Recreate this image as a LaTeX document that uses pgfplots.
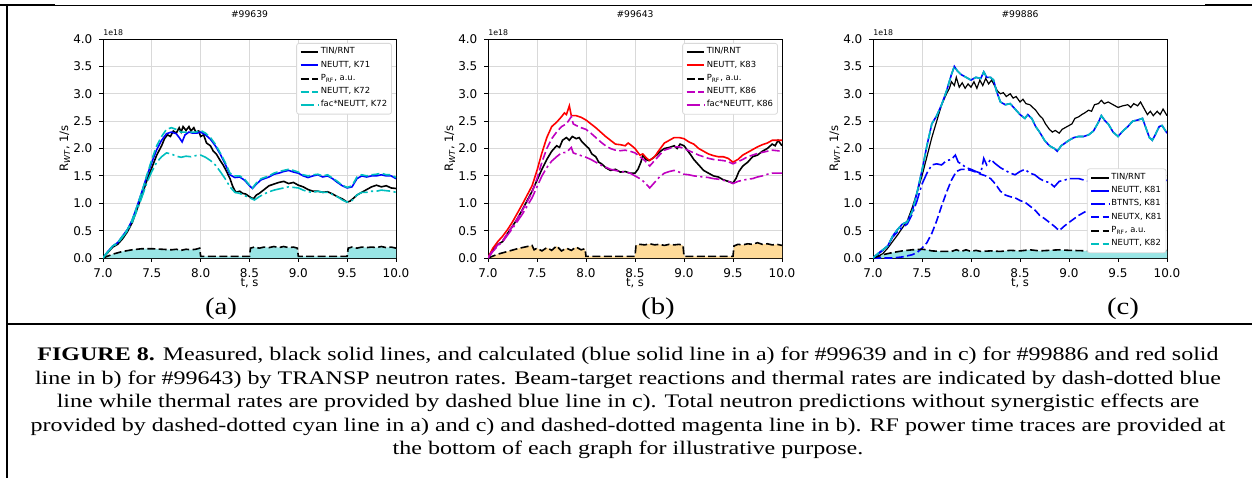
\documentclass[border=0pt]{standalone}
\usepackage{fontspec}
\setmainfont{Liberation Serif}
\newfontfamily\mpl{DejaVu Sans}
\usepackage{graphicx}
\usepackage{pgfplots}
\pgfplotsset{compat=1.18}
\usepackage{pgfplotstable}

\definecolor{mc}{HTML}{00BFBF}
\definecolor{mm}{HTML}{BF00BF}
\definecolor{cfill}{HTML}{99E5E5}
\definecolor{ofill}{HTML}{FFDB99}
\definecolor{lgframe}{HTML}{D9D9D9}

\tikzset{
  dsh/.style={dash pattern=on 4pt off 1.7pt},
  dshdot/.style={dash pattern=on 6.9pt off 1.7pt on 1.1pt off 1.7pt},
}

\pgfplotsset{
  panel/.style={
    scale only axis, width=147pt, height=109.5pt,
    clip mode=individual,
    xmin=7, xmax=10, ymin=0, ymax=4,
    xtick={7,7.5,8,8.5,9,9.5,10},
    ytick={0,0.5,1,1.5,2,2.5,3,3.5,4},
    xticklabel style={/pgf/number format/.cd, fixed, fixed zerofill, precision=1, assume math mode=true},
    yticklabel style={/pgf/number format/.cd, fixed, fixed zerofill, precision=1, assume math mode=true},
    tick label style={font=\mpl\fontsize{6}{7}\selectfont},
    grid=major, major grid style={black!15, line width=0.45pt},
    tick align=outside, tick pos=left, major tick length=1.8pt,
    every tick/.style={black, line width=0.4pt},
    axis line style={line width=0.45pt},
    xlabel={t, s},
    ylabel={R\textsubscript{\itshape WT}, 1/s},
    xlabel style={at={(axis description cs:0.5,-0.114)}, anchor=center, font=\mpl\fontsize{5.8}{6.5}\selectfont},
    ylabel style={at={(axis description cs:-0.13,0.5)}, anchor=center, font=\mpl\fontsize{5.8}{6.5}\selectfont},
    every axis title/.style={at={(axis description cs:0.5,1.114)}, anchor=center, font=\mpl\fontsize{4.6}{5}\selectfont},
    legend cell align=left,
    legend style={font=\mpl\fontsize{4.2}{5}\selectfont, draw=lgframe, rounded corners=1.2pt,
      fill=white, inner sep=1.5pt, row sep=0.6pt, nodes={inner sep=0.7pt},
      at={(0.986,0.982)}, anchor=north east},
    legend image post style={xscale=0.52, line width=1pt},
    every axis plot/.append style={line width=0.8pt},
  },
}

% panel (a) #99639
\pgfplotstableread{
t y
7.00 0.00
7.05 0.10
7.10 0.20
7.15 0.25
7.20 0.35
7.25 0.48
7.30 0.65
7.35 0.90
7.40 1.15
7.45 1.42
7.50 1.65
7.55 1.88
7.60 2.05
7.63 2.18
7.66 2.25
7.69 2.22
7.72 2.32
7.75 2.28
7.78 2.38
7.80 2.30
7.82 2.40
7.85 2.33
7.88 2.40
7.90 2.32
7.93 2.38
7.95 2.30
7.98 2.32
8.00 2.22
8.03 2.25
8.06 2.10
8.10 2.05
8.13 1.95
8.16 1.90
8.20 1.78
8.23 1.70
8.26 1.60
8.30 1.45
8.33 1.30
8.36 1.20
8.40 1.22
8.43 1.18
8.46 1.17
8.50 1.12
8.54 1.08
8.57 1.15
8.60 1.18
8.65 1.25
8.70 1.32
8.75 1.35
8.80 1.38
8.85 1.40
8.90 1.36
8.95 1.38
9.00 1.33
9.05 1.30
9.10 1.25
9.15 1.22
9.20 1.22
9.25 1.20
9.30 1.21
9.35 1.17
9.40 1.12
9.45 1.08
9.50 1.02
9.53 1.04
9.57 1.10
9.60 1.15
9.65 1.20
9.70 1.25
9.75 1.30
9.80 1.33
9.85 1.30
9.90 1.32
9.95 1.28
10.00 1.27
}\rnta

\pgfplotstableread{
t y
7.00 0.00
7.05 0.12
7.10 0.22
7.15 0.28
7.20 0.40
7.25 0.52
7.30 0.70
7.35 0.95
7.40 1.22
7.45 1.50
7.50 1.75
7.55 1.98
7.60 2.15
7.65 2.27
7.70 2.30
7.75 2.27
7.78 2.20
7.81 2.12
7.84 2.25
7.88 2.30
7.92 2.28
7.96 2.28
8.00 2.30
8.05 2.25
8.10 2.17
8.15 2.05
8.20 1.90
8.25 1.72
8.30 1.52
8.35 1.47
8.40 1.48
8.45 1.42
8.50 1.32
8.53 1.27
8.57 1.35
8.62 1.43
8.70 1.48
8.75 1.53
8.80 1.55
8.85 1.58
8.90 1.60
8.95 1.57
9.00 1.55
9.05 1.50
9.10 1.47
9.15 1.50
9.20 1.52
9.25 1.48
9.30 1.50
9.35 1.45
9.40 1.38
9.45 1.32
9.50 1.28
9.55 1.30
9.60 1.45
9.65 1.50
9.70 1.48
9.75 1.50
9.80 1.50
9.85 1.52
9.90 1.50
9.95 1.50
10.00 1.45
}\kseventyone

\pgfplotstableread{
t y
7.00 0.00
7.05 0.12
7.10 0.22
7.15 0.28
7.20 0.40
7.25 0.52
7.30 0.70
7.35 0.95
7.40 1.22
7.45 1.52
7.50 1.80
7.55 2.05
7.60 2.22
7.65 2.35
7.70 2.38
7.75 2.35
7.80 2.30
7.85 2.30
7.90 2.30
7.95 2.30
8.00 2.33
8.05 2.28
8.10 2.20
8.15 2.08
8.20 1.92
8.25 1.75
8.30 1.55
8.35 1.50
8.40 1.50
8.45 1.44
8.50 1.33
8.53 1.28
8.57 1.37
8.62 1.45
8.70 1.50
8.75 1.55
8.80 1.58
8.85 1.60
8.90 1.62
8.95 1.60
9.00 1.57
9.05 1.52
9.10 1.50
9.15 1.52
9.20 1.53
9.25 1.50
9.30 1.52
9.35 1.46
9.40 1.40
9.45 1.33
9.50 1.29
9.55 1.32
9.60 1.48
9.65 1.52
9.70 1.50
9.75 1.52
9.80 1.53
9.85 1.55
9.90 1.52
9.95 1.52
10.00 1.47
}\kseventytwo

\pgfplotstableread{
t y
7.00 0.00
7.05 0.11
7.10 0.21
7.15 0.27
7.20 0.38
7.25 0.50
7.30 0.66
7.35 0.88
7.40 1.12
7.45 1.38
7.50 1.58
7.55 1.75
7.60 1.85
7.65 1.92
7.70 1.90
7.75 1.86
7.80 1.84
7.85 1.86
7.90 1.85
7.95 1.87
8.00 1.88
8.05 1.84
8.10 1.78
8.15 1.70
8.20 1.58
8.25 1.45
8.30 1.30
8.35 1.20
8.40 1.18
8.45 1.14
8.50 1.10
8.55 1.06
8.60 1.12
8.65 1.17
8.70 1.21
8.75 1.24
8.80 1.26
8.85 1.28
8.90 1.30
8.95 1.29
9.00 1.28
9.05 1.24
9.10 1.21
9.15 1.20
9.20 1.22
9.25 1.20
9.30 1.20
9.35 1.16
9.40 1.12
9.45 1.06
9.50 1.02
9.55 1.05
9.60 1.15
9.65 1.20
9.70 1.20
9.75 1.22
9.80 1.22
9.85 1.24
9.90 1.23
9.95 1.22
10.00 1.20
}\faca

\pgfplotstableread{
t y
7.00 0.00
7.10 0.07
7.20 0.12
7.30 0.15
7.40 0.17
7.50 0.17
7.60 0.16
7.70 0.15
7.75 0.16
7.80 0.14
7.85 0.16
7.90 0.15
7.95 0.16
7.99 0.18
8.00 0.03
8.50 0.03
8.51 0.18
8.55 0.20
8.60 0.18
8.65 0.20
8.70 0.19
8.75 0.21
8.80 0.19
8.85 0.21
8.90 0.19
8.95 0.20
8.99 0.18
9.00 0.03
9.50 0.03
9.51 0.18
9.55 0.20
9.60 0.18
9.65 0.20
9.70 0.19
9.75 0.20
9.80 0.19
9.85 0.21
9.90 0.19
9.95 0.20
10.00 0.18
}\prfa

% panel (b) #99643
\pgfplotstableread{
t y
7.00 0.00
7.05 0.15
7.10 0.25
7.15 0.30
7.20 0.45
7.25 0.58
7.30 0.72
7.35 0.88
7.40 1.05
7.45 1.22
7.50 1.42
7.55 1.62
7.60 1.80
7.65 1.95
7.70 2.05
7.73 2.02
7.76 2.15
7.80 2.20
7.83 2.15
7.86 2.22
7.90 2.18
7.93 2.20
7.96 2.12
8.00 2.05
8.03 2.00
8.06 1.90
8.10 1.85
8.13 1.75
8.16 1.72
8.20 1.65
8.25 1.60
8.30 1.62
8.35 1.57
8.40 1.58
8.45 1.55
8.50 1.55
8.53 1.62
8.56 1.75
8.58 1.88
8.61 1.80
8.64 1.78
8.68 1.82
8.72 1.88
8.76 1.95
8.80 2.00
8.85 2.02
8.90 2.05
8.93 2.00
8.96 2.08
9.00 2.05
9.03 1.98
9.07 1.88
9.10 1.80
9.15 1.70
9.20 1.60
9.25 1.55
9.30 1.50
9.35 1.48
9.40 1.43
9.45 1.40
9.50 1.37
9.53 1.45
9.56 1.58
9.60 1.68
9.65 1.75
9.70 1.85
9.75 1.88
9.80 1.95
9.85 2.00
9.90 2.08
9.93 2.05
9.96 2.15
10.00 2.05
}\rntb

\pgfplotstableread{
t y
7.00 0.00
7.05 0.18
7.10 0.30
7.15 0.40
7.20 0.52
7.25 0.66
7.30 0.82
7.35 0.98
7.40 1.15
7.45 1.32
7.50 1.60
7.55 1.92
7.60 2.20
7.65 2.40
7.70 2.48
7.75 2.58
7.78 2.65
7.80 2.62
7.83 2.78
7.85 2.60
7.90 2.60
7.95 2.57
8.00 2.52
8.05 2.45
8.10 2.38
8.15 2.30
8.20 2.22
8.25 2.15
8.30 2.08
8.35 2.07
8.40 2.05
8.43 2.10
8.46 2.06
8.50 2.00
8.55 1.88
8.58 1.90
8.62 1.82
8.65 1.78
8.70 1.85
8.75 1.98
8.80 2.10
8.85 2.15
8.90 2.20
8.95 2.20
9.00 2.18
9.05 2.12
9.10 2.08
9.15 2.00
9.20 1.95
9.25 1.90
9.30 1.87
9.35 1.85
9.40 1.85
9.45 1.82
9.50 1.75
9.55 1.80
9.60 1.88
9.65 1.93
9.70 1.98
9.75 2.03
9.80 2.07
9.85 2.10
9.90 2.15
9.95 2.15
10.00 2.15
}\keightythree

\pgfplotstableread{
t y
7.00 0.00
7.05 0.14
7.10 0.24
7.15 0.32
7.20 0.45
7.25 0.58
7.30 0.72
7.35 0.87
7.40 1.03
7.45 1.20
7.50 1.45
7.55 1.75
7.60 2.00
7.65 2.18
7.70 2.30
7.75 2.40
7.80 2.45
7.85 2.58
7.87 2.45
7.90 2.42
7.95 2.38
8.00 2.35
8.05 2.28
8.10 2.20
8.15 2.12
8.20 2.05
8.25 2.00
8.30 1.97
8.35 1.96
8.40 1.97
8.45 1.95
8.50 1.92
8.55 1.85
8.60 1.78
8.65 1.68
8.70 1.78
8.75 1.88
8.80 1.97
8.85 2.00
8.90 2.03
8.95 2.03
9.00 2.00
9.05 1.96
9.10 1.92
9.15 1.88
9.20 1.85
9.25 1.82
9.30 1.80
9.35 1.79
9.40 1.78
9.45 1.76
9.50 1.72
9.55 1.76
9.60 1.80
9.65 1.85
9.70 1.88
9.75 1.91
9.80 1.93
9.85 1.95
9.90 1.97
9.95 1.96
10.00 1.95
}\keightysix

\pgfplotstableread{
t y
7.00 0.00
7.05 0.12
7.10 0.22
7.15 0.30
7.20 0.42
7.25 0.54
7.30 0.67
7.35 0.80
7.40 0.95
7.45 1.10
7.50 1.30
7.55 1.50
7.60 1.65
7.65 1.77
7.70 1.85
7.75 1.92
7.80 1.93
7.85 2.02
7.87 1.92
7.90 1.90
7.95 1.87
8.00 1.84
8.05 1.80
8.10 1.75
8.15 1.70
8.20 1.66
8.25 1.62
8.30 1.60
8.35 1.58
8.40 1.57
8.45 1.55
8.50 1.50
8.55 1.45
8.60 1.38
8.65 1.28
8.70 1.38
8.75 1.48
8.80 1.55
8.85 1.58
8.90 1.60
8.95 1.57
9.00 1.53
9.05 1.52
9.10 1.50
9.15 1.49
9.20 1.48
9.25 1.47
9.30 1.45
9.35 1.44
9.40 1.42
9.45 1.40
9.50 1.36
9.55 1.40
9.60 1.42
9.65 1.44
9.70 1.45
9.75 1.48
9.80 1.50
9.85 1.53
9.90 1.55
9.95 1.55
10.00 1.55
}\facb

\pgfplotstableread{
t y
7.00 0.00
7.10 0.07
7.20 0.12
7.30 0.17
7.40 0.21
7.45 0.23
7.47 0.15
7.50 0.18
7.55 0.13
7.60 0.19
7.65 0.14
7.70 0.22
7.75 0.13
7.80 0.18
7.85 0.14
7.90 0.20
7.95 0.15
7.99 0.17
8.00 0.03
8.50 0.03
8.51 0.23
8.55 0.25
8.60 0.24
8.65 0.26
8.70 0.24
8.75 0.25
8.80 0.23
8.85 0.25
8.90 0.24
8.95 0.25
8.99 0.23
9.00 0.03
9.50 0.03
9.51 0.22
9.55 0.25
9.60 0.24
9.65 0.26
9.70 0.25
9.75 0.28
9.80 0.25
9.85 0.26
9.90 0.24
9.95 0.25
10.00 0.23
}\prfb

% panel (c) #99886
\pgfplotstableread{
t y
7.00 0.00
7.05 0.03
7.10 0.08
7.15 0.18
7.20 0.30
7.25 0.42
7.30 0.55
7.35 0.68
7.40 0.92
7.45 1.20
7.50 1.50
7.55 1.85
7.60 2.20
7.65 2.50
7.70 2.80
7.75 3.00
7.78 3.10
7.80 3.22
7.83 3.15
7.85 3.30
7.88 3.12
7.91 3.20
7.94 3.10
7.97 3.18
8.00 3.12
8.03 3.22
8.06 3.10
8.09 3.25
8.12 3.15
8.15 3.28
8.18 3.18
8.21 3.25
8.24 3.15
8.27 3.05
8.30 3.00
8.33 3.02
8.36 2.95
8.40 3.00
8.43 2.92
8.46 2.95
8.50 2.85
8.53 2.90
8.56 2.82
8.60 2.80
8.63 2.75
8.66 2.70
8.70 2.60
8.73 2.55
8.76 2.45
8.80 2.35
8.83 2.30
8.86 2.33
8.90 2.28
8.93 2.35
8.96 2.38
9.00 2.42
9.03 2.45
9.06 2.55
9.10 2.58
9.13 2.62
9.16 2.65
9.20 2.70
9.23 2.68
9.26 2.80
9.30 2.82
9.33 2.88
9.36 2.82
9.40 2.85
9.45 2.80
9.50 2.75
9.55 2.78
9.60 2.80
9.63 2.75
9.66 2.82
9.70 2.78
9.73 2.85
9.76 2.75
9.80 2.62
9.83 2.68
9.86 2.60
9.90 2.68
9.93 2.62
9.96 2.72
10.00 2.60
}\rntc

\pgfplotstableread{
t y
7.00 0.00
7.05 0.08
7.10 0.15
7.15 0.22
7.20 0.40
7.25 0.52
7.30 0.62
7.35 0.66
7.40 0.85
7.45 1.20
7.50 1.60
7.55 2.05
7.60 2.45
7.65 2.60
7.70 2.80
7.75 3.05
7.80 3.35
7.83 3.50
7.86 3.42
7.90 3.35
7.95 3.30
8.00 3.25
8.05 3.30
8.10 3.28
8.13 3.40
8.16 3.30
8.20 3.30
8.23 3.25
8.26 3.05
8.30 2.85
8.35 2.80
8.40 2.82
8.45 2.72
8.50 2.62
8.55 2.55
8.58 2.62
8.62 2.55
8.66 2.40
8.70 2.30
8.75 2.15
8.80 2.05
8.85 2.00
8.88 1.95
8.92 2.05
9.00 2.15
9.05 2.20
9.10 2.22
9.15 2.22
9.20 2.25
9.25 2.32
9.30 2.48
9.33 2.60
9.37 2.50
9.40 2.45
9.45 2.30
9.50 2.22
9.55 2.32
9.60 2.40
9.65 2.50
9.70 2.52
9.75 2.55
9.78 2.40
9.82 2.20
9.85 2.15
9.88 2.25
9.92 2.40
9.95 2.42
10.00 2.28
}\keightyone

\pgfplotstableread{
t y
7.00 0.00
7.05 0.07
7.10 0.14
7.15 0.22
7.20 0.38
7.25 0.48
7.30 0.56
7.35 0.62
7.40 0.80
7.45 1.05
7.50 1.35
7.55 1.55
7.60 1.70
7.65 1.72
7.70 1.70
7.75 1.78
7.80 1.80
7.84 1.88
7.87 1.75
7.90 1.72
7.95 1.65
8.00 1.62
8.05 1.58
8.10 1.55
8.13 1.82
8.16 1.70
8.20 1.80
8.25 1.72
8.30 1.65
8.35 1.60
8.40 1.55
8.45 1.52
8.50 1.58
8.55 1.62
8.60 1.55
8.65 1.52
8.70 1.45
8.75 1.40
8.80 1.38
8.85 1.30
8.90 1.40
8.95 1.42
9.00 1.45
9.10 1.45
9.20 1.40
9.30 1.48
9.35 1.55
9.40 1.58
9.45 1.52
9.50 1.45
9.55 1.48
9.60 1.52
9.65 1.55
9.70 1.58
9.75 1.55
9.80 1.45
9.85 1.40
9.90 1.48
9.95 1.50
10.00 1.40
}\btnts

\pgfplotstableread{
t y
7.00 0.00
7.20 0.00
7.30 0.02
7.40 0.06
7.45 0.10
7.50 0.18
7.55 0.28
7.60 0.45
7.65 0.68
7.70 0.95
7.75 1.20
7.80 1.42
7.85 1.58
7.90 1.62
7.95 1.62
8.00 1.60
8.05 1.57
8.10 1.53
8.15 1.50
8.20 1.45
8.25 1.35
8.30 1.22
8.35 1.15
8.40 1.12
8.45 1.10
8.50 1.05
8.55 1.02
8.60 0.95
8.65 0.88
8.70 0.78
8.75 0.72
8.80 0.65
8.85 0.58
8.90 0.50
8.95 0.58
9.00 0.65
9.10 0.78
9.20 0.88
9.30 0.93
9.40 0.95
9.50 0.92
9.60 0.90
9.70 0.92
9.80 0.90
9.90 0.88
10.00 0.85
}\neutx

\pgfplotstableread{
t y
7.00 0.00
7.10 0.06
7.20 0.10
7.30 0.13
7.40 0.15
7.50 0.16
7.55 0.15
7.60 0.13
7.70 0.12
7.80 0.12
7.85 0.15
7.90 0.12
7.95 0.15
8.00 0.12
8.05 0.14
8.10 0.12
8.20 0.13
8.30 0.12
8.40 0.14
8.50 0.13
8.60 0.15
8.70 0.13
8.80 0.14
8.90 0.15
9.00 0.14
9.20 0.13
9.40 0.14
9.60 0.13
9.80 0.14
10.00 0.14
}\prfc

\begin{document}
\begin{tikzpicture}
\path[use as bounding box] (0,0) rectangle (626pt,-239pt);

% ---- (a)
\begin{axis}[panel, at={(51.5pt,-129pt)}, anchor=south west, width=146.5pt, title={\#99639}]
\addplot[fill=cfill, draw=none, forget plot] table {\prfa} \closedcycle;
\addplot[black] table {\rnta};
\addlegendentry{TIN/RNT}
\addplot[blue] table {\kseventyone};
\addlegendentry{NEUTT, K71}
\addplot[black, dsh] table {\prfa};
\addlegendentry{P\textsubscript{RF}, a.u.}
\addplot[mc, dsh] table {\kseventytwo};
\addlegendentry{NEUTT, K72}
\addplot[mc, dshdot] table {\faca};
\addlegendentry{fac*NEUTT, K72}
\node[anchor=south west, inner sep=0, yshift=1.3pt, font=\mpl\fontsize{3.9}{4.5}\selectfont] at (rel axis cs:0,1) {1e18};
\end{axis}

% ---- (b)
\begin{axis}[panel, at={(244pt,-129pt)}, anchor=south west, title={\#99643}]
\addplot[fill=ofill, draw=none, forget plot] table {\prfb} \closedcycle;
\addplot[black] table {\rntb};
\addlegendentry{TIN/RNT}
\addplot[red] table {\keightythree};
\addlegendentry{NEUTT, K83}
\addplot[black, dsh] table {\prfb};
\addlegendentry{P\textsubscript{RF}, a.u.}
\addplot[mm, dsh] table {\keightysix};
\addlegendentry{NEUTT, K86}
\addplot[mm, dshdot] table {\facb};
\addlegendentry{fac*NEUTT, K86}
\node[anchor=south west, inner sep=0, yshift=1.3pt, font=\mpl\fontsize{3.9}{4.5}\selectfont] at (rel axis cs:0,1) {1e18};
\end{axis}

% ---- (c)
\begin{axis}[panel, at={(436.5pt,-129pt)}, anchor=south west, title={\#99886},
  legend style={at={(0.998,0.022)}, anchor=south east}]
\addplot[fill=cfill, draw=none, forget plot] table {\prfc} \closedcycle;
\addplot[black, line width=0.6pt] table {\rntc};
\addlegendentry{TIN/RNT}
\addplot[blue] table {\keightyone};
\addlegendentry{NEUTT, K81}
\addplot[blue, dshdot] table {\btnts};
\addlegendentry{BTNTS, K81}
\addplot[blue, dsh] table {\neutx};
\addlegendentry{NEUTX, K81}
\addplot[black, dsh] table {\prfc};
\addlegendentry{P\textsubscript{RF}, a.u.}
\addplot[mc, dsh] table {\keightyone};
\addlegendentry{NEUTT, K82}
\node[anchor=south west, inner sep=0, yshift=1.3pt, font=\mpl\fontsize{3.9}{4.5}\selectfont] at (rel axis cs:0,1) {1e18};
\end{axis}

% ---- frame, panel letters and caption (pixel coordinates)
\begin{scope}[x=0.5pt, y=-0.5pt]
\draw[line width=0.5pt] (0,5) -- (1252,5);
\draw[line width=1.1pt] (0,5) -- (55,5);
\draw[line width=1.1pt] (1205,5) -- (1252,5);
\draw[line width=0.8pt] (7,5) -- (7,478);
\draw[line width=1pt] (7,324) -- (1252,324);
\node[inner sep=0] at (221,309) {\scalebox{1.2}[1]{\fontsize{12}{13}\selectfont (a)}};
\node[inner sep=0] at (658,309) {\scalebox{1.2}[1]{\fontsize{12}{13}\selectfont (b)}};
\node[inner sep=0] at (1123,309) {\scalebox{1.2}[1]{\fontsize{12}{13}\selectfont (c)}};
\node[anchor=north, inner sep=0] at (628,344) {\fontsize{9.6}{11.75}\selectfont\scalebox{1.25}[1]{%
\begin{tabular}{@{}c@{}}
\textbf{FIGURE 8.} Measured, black solid lines, and calculated (blue solid line in a) for \#99639 and in c) for \#99886 and red solid\\
line in b) for \#99643) by TRANSP neutron rates. Beam-target reactions and thermal rates are indicated by dash-dotted blue\\
line while thermal rates are provided by dashed blue line in c). Total neutron predictions without synergistic effects are\\
provided by dashed-dotted cyan line in a) and c) and dashed-dotted magenta line in b). RF power time traces are provided at\\
the bottom of each graph for illustrative purpose.
\end{tabular}}};
\end{scope}
\end{tikzpicture}
\end{document}
